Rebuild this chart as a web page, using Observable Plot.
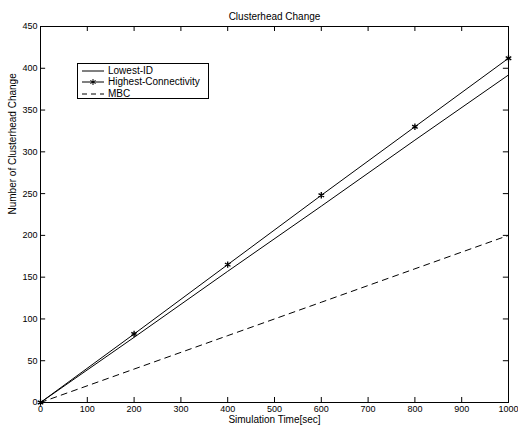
<!DOCTYPE html>
<html><head><meta charset="utf-8">
<script src="https://cdn.jsdelivr.net/npm/d3@7"></script>
<script src="https://cdn.jsdelivr.net/npm/@observablehq/plot@0.6"></script>
<style>
body{margin:0;background:#fff;font-family:"Liberation Sans",Arial,sans-serif;}
#wrap{position:relative;width:518px;height:429px;overflow:hidden;}
#legend{position:absolute;left:77px;top:63px;width:132px;height:36px;border:1px solid #000;background:#fff;font-size:10px;line-height:12px;padding-top:1px;box-sizing:border-box;}
#legend div{display:flex;align-items:center;height:11.5px;}
#legend svg{margin-left:4px;margin-right:4px;}
</style></head>
<body><div id="wrap"></div>
<script>
const times = [0, 200, 400, 600, 800, 1000];
const lowestID = [0, 78, 157, 235, 314, 392];
const highestConn = [0, 82, 165, 248, 330, 412];
const mbc = [0, 40, 80, 120, 160, 200];
const xTicks = [0,100,200,300,400,500,600,700,800,900,1000];
const yTicks = [0,50,100,150,200,250,300,350,400,450];
const title = "Clusterhead Change";
const xLabel = "Simulation Time[sec]";
const yLabel = "Number of Clusterhead Change";
const seriesNames = ["Lowest-ID","Highest-Connectivity","MBC"];

const rows = (vals) => times.map((t,i)=>({t, v: vals[i]}));
const font = "Liberation Sans, Arial, sans-serif";

const chart = Plot.plot({
  width: 518, height: 429,
  marginLeft: 40, marginRight: 10, marginTop: 26, marginBottom: 27,
  style: {fontFamily: font, fontSize: "10px", background: "#fff", color: "#000"},
  x: {domain: [0, 1000]},
  y: {domain: [0, 450]},
  marks: [
    Plot.axisX({ticks: xTicks, tickSize: 0, tickPadding: 3, label: null, fontSize: 9, tickFormat: d=>String(d)}),
    Plot.axisY({ticks: yTicks, tickSize: 0, tickPadding: 3, label: null, fontSize: 9, tickFormat: d=>String(d)}),
    Plot.ruleX(xTicks, {x: d=>d, y1: 0, y2: 6, stroke: "#000"}),
    Plot.ruleX(xTicks, {x: d=>d, y1: 450, y2: 444, stroke: "#000"}),
    Plot.ruleY(yTicks, {y: d=>d, x1: 0, x2: 11, stroke: "#000"}),
    Plot.ruleY(yTicks, {y: d=>d, x1: 1000, x2: 989, stroke: "#000"}),
    Plot.frame({stroke: "#000"}),
    Plot.line(rows(lowestID), {x: "t", y: "v", stroke: "#000", strokeWidth: 1}),
    Plot.line(rows(highestConn), {x: "t", y: "v", stroke: "#000", strokeWidth: 1}),
    Plot.dot(rows(highestConn), {x: "t", y: "v", symbol: "asterisk", r: 3, stroke: "#000", strokeWidth: 1.3}),
    Plot.line(rows(mbc), {x: "t", y: "v", stroke: "#000", strokeWidth: 1, strokeDasharray: "6,5"}),
    Plot.text([title], {frameAnchor: "top", dy: -14, fontSize: 10}),
    Plot.text([xLabel], {frameAnchor: "bottom", dy: 20, fontSize: 10}),
    Plot.text([yLabel], {frameAnchor: "left", rotate: -90, dx: -28, fontSize: 10})
  ]
});
const wrap = document.getElementById("wrap");
wrap.appendChild(chart);

const legend = document.createElement("div");
legend.id = "legend";
const dashes = ["none", "none", "5,4"];
seriesNames.forEach((name, i) => {
  const row = document.createElement("div");
  const star = i === 1 ? '<path d="M11,-3V3M8.4,-1.5L13.6,1.5M8.4,1.5L13.6,-1.5" stroke="#000" stroke-width="1" transform="translate(0,5)"/>' : "";
  row.innerHTML = `<svg width="22" height="10"><line x1="0" y1="5" x2="22" y2="5" stroke="#000" stroke-width="1" ${dashes[i] !== "none" ? `stroke-dasharray="${dashes[i]}"` : ""}/>${star}</svg><span>${name}</span>`;
  legend.appendChild(row);
});
wrap.appendChild(legend);
</script></body></html>
